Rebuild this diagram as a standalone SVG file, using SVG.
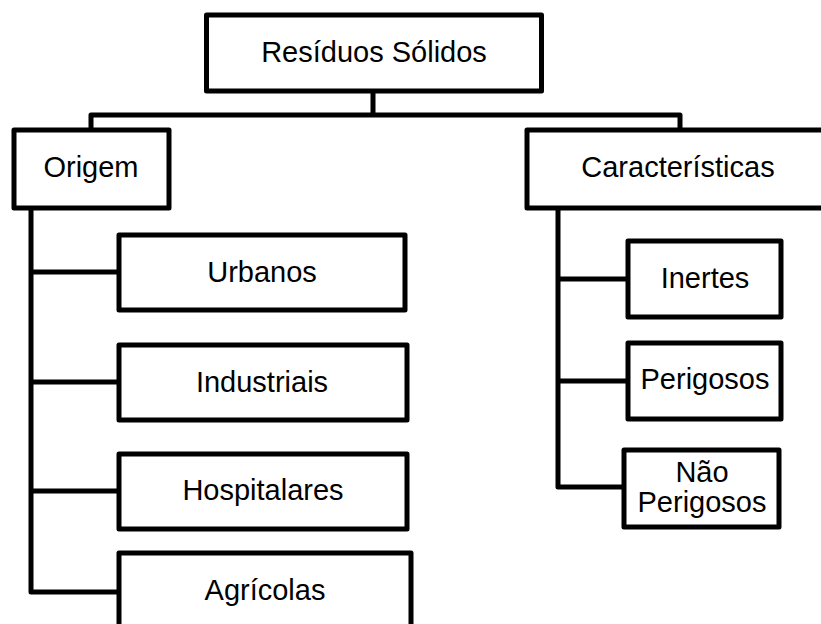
<svg xmlns="http://www.w3.org/2000/svg" width="821" height="624" viewBox="0 0 821 624">
<style>
.box{fill:#fff;stroke:#000;stroke-width:5;stroke-linejoin:round}
.ln{fill:none;stroke:#000;stroke-width:5;stroke-linejoin:round}
text{font-family:"Liberation Sans",Arial,sans-serif;font-size:29px;fill:#000;text-anchor:middle}
</style>
<rect width="821" height="624" fill="#fff"/>
<g id="connectors">
<path class="ln" d="M373,91 V115 M91,130 V115 H680 V130"/>
<path class="ln" d="M31,208 V592 H119 M31,272 H119 M31,382 H119 M31,491 H119"/>
<path class="ln" d="M558,208 V487 H624 M558,279 H628 M558,381 H628"/>
</g>
<g id="residuos"><rect class="box" x="206.5" y="15" width="335" height="76"/><text x="374" y="62">Resíduos Sólidos</text></g>
<g id="origem"><rect class="box" x="14" y="130" width="155" height="78"/><text x="91" y="177">Origem</text></g>
<g id="caracteristicas"><rect class="box" x="527" y="130" width="300" height="78"/><text x="678" y="177">Características</text></g>
<g id="urbanos"><rect class="box" x="119" y="235" width="286" height="75"/><text x="262" y="282">Urbanos</text></g>
<g id="industriais"><rect class="box" x="119" y="345" width="288" height="75"/><text x="262" y="392">Industriais</text></g>
<g id="hospitalares"><rect class="box" x="119" y="454" width="288" height="75"/><text x="263" y="500">Hospitalares</text></g>
<g id="agricolas"><rect class="box" x="119" y="553" width="292" height="80"/><text x="265" y="600">Agrícolas</text></g>
<g id="inertes"><rect class="box" x="628" y="241" width="153" height="76"/><text x="705" y="288">Inertes</text></g>
<g id="perigosos"><rect class="box" x="628" y="343" width="153" height="76"/><text x="705" y="389">Perigosos</text></g>
<g id="nao-perigosos"><rect class="box" x="624" y="450" width="155" height="77"/><text x="702" y="482">Não</text><text x="702" y="512">Perigosos</text></g>
</svg>
